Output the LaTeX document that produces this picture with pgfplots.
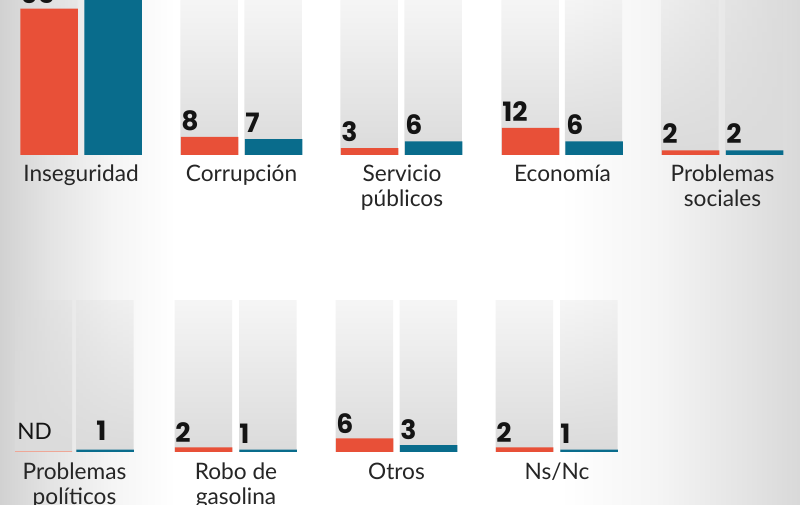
\documentclass[border=0pt]{standalone}
\usepackage{pgfplots}
\pgfplotsset{compat=1.18}
\usepackage{pgfplotstable}
\usetikzlibrary{fadings}
\usepackage{fontspec}
\setmainfont{Lato}
\newfontfamily\numfont{Poppins}
\definecolor{naranja}{RGB}{232,80,56}
\definecolor{azul}{RGB}{9,108,140}
\definecolor{nd}{RGB}{240,180,165}
\pgfdeclarehorizontalshading{bgsh}{100bp}{color(0bp)=(black!18); color(25bp)=(black!18); color(28bp)=(black!11); color(32bp)=(black!4); color(36bp)=(white); color(60bp)=(white); color(66bp)=(black!4); color(71bp)=(black!10); color(75bp)=(black!15); color(100bp)=(black!15)}
\tikzfading[name=barfade, top color=transparent!75, bottom color=transparent!0]

% x positions are bar centres (px), values in percent
\pgfplotstableread{
xo xb o b
49 113 65 72
209.5 273.5 8 7
369.5 433.5 3 6
530.5 594 12 6
690.5 754.5 2 2
}\rowone
\pgfplotstableread{
xo xb o b
43.5 105 0 1
203.5 268 2 1
364.5 428.5 6 3
524.5 589 2 1
}\rowtwo
\pgfplotstableread{
x h
49 69
113 69
209.5 69
273.5 69
369.5 69
433.5 69
530.5 69
594 69
690.5 69
754.5 69
}\bgone
\pgfplotstableread{
x h
43.5 67.5
105 67.5
203.5 67.5
268 67.5
364.5 67.5
428.5 67.5
524.5 67.5
589 67.5
}\bgtwo

\pgfplotsset{
  panel/.style={
    x=0.75pt, y=1.6875pt, xmin=0, xmax=800, ymin=0, ymax=70,
    scale only axis, axis lines=none, clip=false, anchor=south west,
    ybar, bar width=57.5, bar shift=0pt,
  },
  bgbar/.style={draw=none, fill=black!14, path fading=barfade},
}
\tikzset{
  num/.style={font=\numfont\bfseries\fontsize{20}{20}\selectfont, anchor=base west, inner sep=0pt, text=black!92},
  cat/.style={font=\fontsize{17}{18}\selectfont, anchor=base, inner sep=0pt, text=black!85},
}

\begin{document}
\begin{tikzpicture}
\useasboundingbox (0,0) rectangle (600pt,378.75pt);
\clip (0,0) rectangle (600pt,378.75pt);
\shade[shading=bgsh] (0,0) rectangle (600pt,378.75pt);

% ---- row 1 ----
\begin{axis}[panel, at={(0pt,262.5pt)}]
\addplot[bgbar] table[x=x,y=h] {\bgone};
\addplot[fill=naranja, draw=none] table[x=xo,y=o] {\rowone};
\addplot[fill=azul, draw=none] table[x=xb,y=b] {\rowone};
\node[num] at (axis cs:20,65) [yshift=4pt] {65};
\node[num] at (axis cs:84,72) [yshift=4pt] {72};
\node[num] at (axis cs:181,8) [yshift=5pt] {8};
\node[num] at (axis cs:245,7) [yshift=5pt] {7};
\node[num] at (axis cs:341,3) [yshift=5pt] {3};
\node[num] at (axis cs:405,6) [yshift=5pt] {6};
\node[num] at (axis cs:502,12) [yshift=5pt] {12};
\node[num] at (axis cs:566,6) [yshift=5pt] {6};
\node[num] at (axis cs:662,2) [yshift=5pt] {2};
\node[num] at (axis cs:726,2) [yshift=5pt] {2};
\node[cat] at (axis cs:81,0) [yshift=-20.25pt] {Inseguridad};
\node[cat] at (axis cs:241.5,0) [yshift=-20.25pt] {Corrupción};
\node[cat] at (axis cs:402,0) [yshift=-20.25pt] {Servicio};
\node[cat] at (axis cs:402,0) [yshift=-39pt] {públicos};
\node[cat] at (axis cs:562.5,0) [yshift=-20.25pt] {Economía};
\node[cat] at (axis cs:722.5,0) [yshift=-20.25pt] {Problemas};
\node[cat] at (axis cs:722.5,0) [yshift=-39pt] {sociales};
\end{axis}

% ---- row 2 ----
\begin{axis}[panel, at={(0pt,39.75pt)}]
\addplot[bgbar] table[x=x,y=h] {\bgtwo};
\addplot[fill=nd, draw=none] coordinates {(43.5,0.45)};
\addplot[fill=naranja, draw=none] table[x=xo,y=o] {\rowtwo};
\addplot[fill=azul, draw=none] table[x=xb,y=b] {\rowtwo};
\node[num, font=\fontsize{17}{18}\selectfont] at (axis cs:17,0) [yshift=9pt] {ND};
\node[num] at (axis cs:96,1) [yshift=7pt] {1};
\node[num] at (axis cs:175,2) [yshift=4pt] {2};
\node[num] at (axis cs:239,1) [yshift=5pt] {1};
\node[num] at (axis cs:336,6) [yshift=4pt] {6};
\node[num] at (axis cs:400,3) [yshift=4pt] {3};
\node[num] at (axis cs:496,2) [yshift=4pt] {2};
\node[num] at (axis cs:560,1) [yshift=5pt] {1};
\node[cat] at (axis cs:74.5,0) [yshift=-20.6pt] {Problemas};
\node[cat] at (axis cs:74.5,0) [yshift=-39.4pt] {políticos};
\node[cat] at (axis cs:236,0) [yshift=-20.6pt] {Robo de};
\node[cat] at (axis cs:236,0) [yshift=-39.4pt] {gasolina};
\node[cat] at (axis cs:396.5,0) [yshift=-20.6pt] {Otros};
\node[cat] at (axis cs:557,0) [yshift=-20.6pt] {Ns/Nc};
\end{axis}
\end{tikzpicture}
\end{document}
